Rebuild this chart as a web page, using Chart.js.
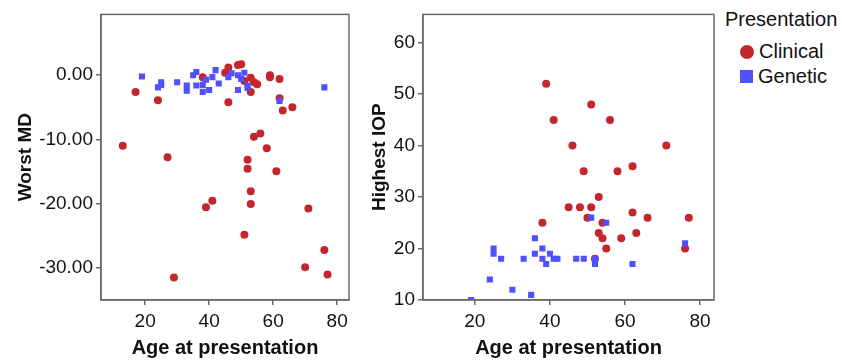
<!DOCTYPE html>
<html>
<head>
<meta charset="utf-8">
<title>Worst MD and Highest IOP by age at presentation</title>
<script src="https://cdn.jsdelivr.net/npm/chart.js@4.4.1/dist/chart.umd.min.js"></script>
<style>
  html, body { margin: 0; padding: 0; background: #fff; }
  #wrap { position: relative; width: 842px; height: 360px; overflow: hidden; }
  #mdChart { position: absolute; left: 0; top: 0; }
  #iopChart { position: absolute; left: 360px; top: 0; }
  #legend { position: absolute; left: 725px; top: 7px; font-family: "Liberation Sans", Arial, sans-serif; color: #111; font-size: 20px; }
  #legend .ttl { line-height: 24px; white-space: nowrap; }
  #legendItems { margin-top: 8px; }
  #legend .item { display: flex; align-items: center; height: 25px; padding-left: 15px; white-space: nowrap; }
  #legend .mark { display: inline-block; margin-right: 5px; }
  #legend .mark.circle { width: 14px; height: 14px; border-radius: 50%; }
  #legend .mark.rect { width: 13px; height: 13px; }
</style>
</head>
<body>
<div id="wrap">
  <canvas id="mdChart" width="360" height="360"></canvas>
  <canvas id="iopChart" width="360" height="360"></canvas>
  <div id="legend"><div class="ttl">Presentation</div><div id="legendItems"></div></div>
</div>
<script>
// Worst MD vs age (left panel)
const clinicalAgeMD = [17, 24, 38, 46, 45, 49, 50, 53, 54, 55, 51, 53, 59, 59, 62, 62, 46, 63, 66,
  13, 27, 54, 56, 58, 52, 52, 61, 53, 53, 41, 39, 71, 51, 76, 70, 77, 29];
const clinicalMD = [-2.6, -3.9, -0.3, 1.2, 0.4, 1.6, 1.7, -0.4, -1.1, -1.4, -0.9, -2.6, 0.0, -0.3, -0.6, -3.6, -4.2, -5.5, -5.0,
  -11.0, -12.8, -9.6, -9.1, -11.4, -13.2, -14.6, -15.0, -18.1, -20.1, -19.6, -20.6, -20.8, -24.9, -27.3, -30.0, -31.1, -31.6];
const geneticAgeMD = [19, 25, 25, 24, 30, 33, 33, 35, 36, 36, 38, 38, 39, 40, 41, 42, 43, 46, 47, 49, 51, 50, 52, 52, 49, 62, 76];
const geneticMD = [-0.2, -1.1, -1.5, -1.9, -1.1, -1.6, -2.4, 0.0, 0.5, -1.6, -1.5, -2.6, -0.7, -2.3, -0.3, 0.8, -1.3,
  -0.3, 0.3, 0.0, 0.4, -0.6, -1.6, -2.0, -2.3, -4.0, -1.9];

// Highest IOP vs age (right panel)
const clinicalAgeIOP = [39, 51, 41, 56, 46, 71, 49, 58, 62, 53, 45, 48, 51, 62, 50, 66, 77, 38, 54, 53, 63, 54, 59, 55, 76, 52];
const clinicalIOP = [52, 48, 45, 45, 40, 40, 35, 35, 36, 30, 28, 28, 28, 27, 26, 26, 26, 25, 25, 23, 23, 22, 22, 20, 20, 18];
const geneticAgeIOP = [51, 55, 36, 25, 25, 38, 36, 40, 76, 27, 33, 38, 41, 42, 47, 49, 52, 39, 52, 62, 24, 30, 35, 19];
const geneticIOP = [26, 25, 22, 20, 19, 20, 19, 19, 21, 18, 18, 18, 18, 18, 18, 18, 18, 17, 17, 17, 14, 12, 11, 10];

// tick labels
const ageTicks = [20, 40, 60, 80];
const mdTicks = [0, -10, -20, -30];
const iopTicks = [10, 20, 30, 40, 50, 60];

const RED = '#c4262e';
const BLUE = '#5050ff';
const AXIS = '#6a6a6a';
const TXT = '#111';

Chart.defaults.font.family = '"Liberation Sans", Arial, sans-serif';
Chart.defaults.color = TXT;

function pts(xs, ys) {
  return xs.map((x, i) => ({ x: x, y: ys[i] }));
}

// box around the plot area
const frame = {
  id: 'frame',
  afterDraw(chart) {
    const a = chart.chartArea;
    const ctx = chart.ctx;
    ctx.save();
    ctx.strokeStyle = AXIS;
    ctx.lineWidth = 1.5;
    ctx.strokeRect(a.left, a.top, a.right - a.left, a.bottom - a.top);
    ctx.restore();
  }
};

function datasets(cx, cy, gx, gy) {
  return [{
    label: 'Clinical',
    data: pts(cx, cy),
    pointStyle: 'circle',
    pointRadius: 4,
    backgroundColor: RED,
    borderColor: RED,
    borderWidth: 0,
    order: 1
  }, {
    label: 'Genetic',
    data: pts(gx, gy),
    pointStyle: 'rect',
    pointRadius: 4.3,
    backgroundColor: BLUE,
    borderColor: BLUE,
    borderWidth: 0,
    order: 0
  }];
}

function xAxis() {
  return {
    type: 'linear',
    min: 6.2,
    max: 83.7,
    afterBuildTicks: s => { s.ticks = ageTicks.map(v => ({ value: v })); },
    afterFit: s => { s.height = 60; },
    grid: { drawOnChartArea: false, tickLength: 5, color: AXIS, lineWidth: 1.5 },
    border: { color: AXIS, width: 1.5 },
    ticks: { font: { size: 19 }, color: TXT, padding: 5, maxRotation: 0 },
    title: { display: true, text: 'Age at presentation', font: { size: 20, weight: 'bold' }, color: TXT, padding: { top: 0, bottom: 0 } }
  };
}

function yAxis(min, max, tickVals, fmt, title, width, titlePad) {
  return {
    type: 'linear',
    min: min,
    max: max,
    afterBuildTicks: s => { s.ticks = tickVals.map(v => ({ value: v })); },
    afterFit: s => { s.width = width; },
    grid: { drawOnChartArea: false, tickLength: 5, color: AXIS, lineWidth: 1.5 },
    border: { color: AXIS, width: 1.5 },
    ticks: { font: { size: 19 }, color: TXT, padding: 3, callback: fmt },
    title: { display: true, text: title, font: { size: 19, weight: 'bold' }, color: TXT, padding: { top: titlePad, bottom: 0 } }
  };
}

const commonPlugins = { legend: { display: false }, tooltip: { enabled: false } };

const mdChart = new Chart(document.getElementById('mdChart'), {
  type: 'scatter',
  data: { datasets: datasets(clinicalAgeMD, clinicalMD, geneticAgeMD, geneticMD) },
  options: {
    responsive: false,
    animation: false,
    layout: { padding: { top: 10, right: 11, bottom: 0, left: 0 } },
    plugins: commonPlugins,
    scales: {
      x: xAxis(),
      y: yAxis(-35.1, 9.5, mdTicks, v => v.toFixed(2), 'Worst MD', 101, 14.6)
    }
  },
  plugins: [frame]
});

const iopChart = new Chart(document.getElementById('iopChart'), {
  type: 'scatter',
  data: { datasets: datasets(clinicalAgeIOP, clinicalIOP, geneticAgeIOP, geneticIOP) },
  options: {
    responsive: false,
    animation: false,
    layout: { padding: { top: 10, right: 6, bottom: 0, left: 0 } },
    plugins: commonPlugins,
    scales: {
      x: xAxis(),
      y: yAxis(10, 65.5, iopTicks, v => String(v), 'Highest IOP', 63, 8.6)
    }
  },
  plugins: [frame]
});

// HTML legend built from the chart's datasets
const legendItems = document.getElementById('legendItems');
iopChart.data.datasets.forEach(ds => {
  const row = document.createElement('div');
  row.className = 'item';
  const mark = document.createElement('span');
  mark.className = 'mark ' + ds.pointStyle;
  mark.style.background = ds.backgroundColor;
  const txt = document.createElement('span');
  txt.textContent = ds.label;
  row.append(mark, txt);
  legendItems.append(row);
});
</script>
</body>
</html>
